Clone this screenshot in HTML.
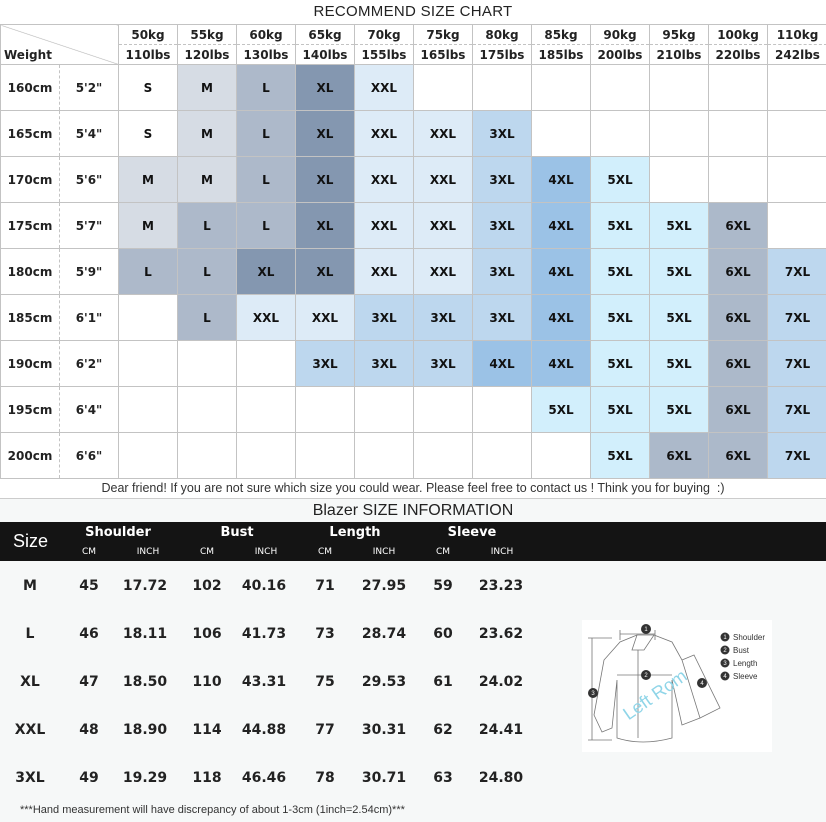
<!DOCTYPE html>
<html><head><meta charset="utf-8"><style>
*{margin:0;padding:0;box-sizing:border-box}
body{width:826px;height:822px;background:#fff;font-family:"DejaVu Sans","Liberation Sans",sans-serif;position:relative;overflow:hidden;color:#111}
.t1{position:absolute;left:0;top:0;width:826px;height:24px;text-align:center;font:15px/24px "Liberation Sans",sans-serif;color:#222;letter-spacing:.3px}
table.g{position:absolute;left:0;top:24px;border-collapse:collapse;table-layout:fixed;width:827px}
table.g td{border:1px solid #c3c3c3;text-align:center;font-weight:bold;font-size:12px;height:46px;padding:0;white-space:nowrap;overflow:hidden}
table.g tr.h td{height:20px;font-size:12px;font-weight:bold;color:#222}
table.g tr.h1 td{border-bottom:1px dashed #c3c3c3}
table.g tr.h2 td{border-top:1px dashed #c3c3c3}
td.hc{border-right:1px dashed #c3c3c3!important;color:#222}
td.hi{border-left:1px dashed #c3c3c3!important;color:#222}
.S{background:#fff}.M{background:#d6dce4}.L{background:#adb9ca}.XL{background:#8497b0}
.XXL{background:#ddebf7}.X3{background:#bdd7ee}.X4{background:#9bc2e6}.X5{background:#d2effc}.X6{background:#acb9ca}.X7{background:#bdd7ee}
.foot{position:absolute;left:0;top:479px;width:826px;height:19px;text-align:center;font:12.5px/19px "Liberation Sans",sans-serif;color:#333}
.bot{position:absolute;left:0;top:498px;width:826px;height:324px;background:#f6f8f8;border-top:1px solid #ccc}
.t2{position:absolute;left:0;top:500px;width:826px;text-align:center;font:16px/22px "Liberation Sans",sans-serif;color:#222}
.bar{position:absolute;left:0;top:522px;width:826px;height:39px;background:#141414;color:#fff}
.a{position:absolute;transform:translateX(-50%);white-space:nowrap}
.r{position:absolute;transform:translate(-50%,-50%);font-weight:bold;font-size:14px;color:#222;white-space:nowrap}
.note{position:absolute;left:20px;top:804px;font:11px "Liberation Sans",sans-serif;color:#333}
</style></head><body>
<div class="t1">RECOMMEND SIZE CHART</div>
<table class="g">
<colgroup><col style="width:59px"><col style="width:59px"><col style="width:59px"><col style="width:59px"><col style="width:59px"><col style="width:59px"><col style="width:59px"><col style="width:59px"><col style="width:59px"><col style="width:59px"><col style="width:59px"><col style="width:59px"><col style="width:59px"><col style="width:60px"></colgroup>
<tr class="h h1"><td colspan="2" rowspan="2" style="text-align:left;vertical-align:bottom;padding:0 0 2px 3px;color:#222;background:linear-gradient(to top right,transparent 49.3%,#bbb 50%,transparent 51%)">Weight</td><td>50kg</td><td>55kg</td><td>60kg</td><td>65kg</td><td>70kg</td><td>75kg</td><td>80kg</td><td>85kg</td><td>90kg</td><td>95kg</td><td>100kg</td><td>110kg</td></tr>
<tr class="h h2"><td>110lbs</td><td>120lbs</td><td>130lbs</td><td>140lbs</td><td>155lbs</td><td>165lbs</td><td>175lbs</td><td>185lbs</td><td>200lbs</td><td>210lbs</td><td>220lbs</td><td>242lbs</td></tr>
<tr><td class="hc">160cm</td><td class="hi">5'2"</td><td class="S">S</td><td class="M">M</td><td class="L">L</td><td class="XL">XL</td><td class="XXL">XXL</td><td></td><td></td><td></td><td></td><td></td><td></td><td></td></tr>
<tr><td class="hc">165cm</td><td class="hi">5'4"</td><td class="S">S</td><td class="M">M</td><td class="L">L</td><td class="XL">XL</td><td class="XXL">XXL</td><td class="XXL">XXL</td><td class="X3">3XL</td><td></td><td></td><td></td><td></td><td></td></tr>
<tr><td class="hc">170cm</td><td class="hi">5'6"</td><td class="M">M</td><td class="M">M</td><td class="L">L</td><td class="XL">XL</td><td class="XXL">XXL</td><td class="XXL">XXL</td><td class="X3">3XL</td><td class="X4">4XL</td><td class="X5">5XL</td><td></td><td></td><td></td></tr>
<tr><td class="hc">175cm</td><td class="hi">5'7"</td><td class="M">M</td><td class="L">L</td><td class="L">L</td><td class="XL">XL</td><td class="XXL">XXL</td><td class="XXL">XXL</td><td class="X3">3XL</td><td class="X4">4XL</td><td class="X5">5XL</td><td class="X5">5XL</td><td class="X6">6XL</td><td></td></tr>
<tr><td class="hc">180cm</td><td class="hi">5'9"</td><td class="L">L</td><td class="L">L</td><td class="XL">XL</td><td class="XL">XL</td><td class="XXL">XXL</td><td class="XXL">XXL</td><td class="X3">3XL</td><td class="X4">4XL</td><td class="X5">5XL</td><td class="X5">5XL</td><td class="X6">6XL</td><td class="X7">7XL</td></tr>
<tr><td class="hc">185cm</td><td class="hi">6'1"</td><td></td><td class="L">L</td><td class="XXL">XXL</td><td class="XXL">XXL</td><td class="X3">3XL</td><td class="X3">3XL</td><td class="X3">3XL</td><td class="X4">4XL</td><td class="X5">5XL</td><td class="X5">5XL</td><td class="X6">6XL</td><td class="X7">7XL</td></tr>
<tr><td class="hc">190cm</td><td class="hi">6'2"</td><td></td><td></td><td></td><td class="X3">3XL</td><td class="X3">3XL</td><td class="X3">3XL</td><td class="X4">4XL</td><td class="X4">4XL</td><td class="X5">5XL</td><td class="X5">5XL</td><td class="X6">6XL</td><td class="X7">7XL</td></tr>
<tr><td class="hc">195cm</td><td class="hi">6'4"</td><td></td><td></td><td></td><td></td><td></td><td></td><td></td><td class="X5">5XL</td><td class="X5">5XL</td><td class="X5">5XL</td><td class="X6">6XL</td><td class="X7">7XL</td></tr>
<tr><td class="hc">200cm</td><td class="hi">6'6"</td><td></td><td></td><td></td><td></td><td></td><td></td><td></td><td></td><td class="X5">5XL</td><td class="X6">6XL</td><td class="X6">6XL</td><td class="X7">7XL</td></tr>
</table>
<div class="foot">Dear friend! If you are not sure which size you could wear. Please feel free to contact us ! Think you for buying &nbsp;:)</div>
<div class="bot"></div>
<div class="t2">Blazer SIZE INFORMATION</div>
<div class="bar">
<div style="position:absolute;left:13px;top:9px;font:18px 'Liberation Sans',sans-serif">Size</div>
<div class="a" style="left:118px;top:3px;font-weight:bold;font-size:13px">Shoulder</div>
<div class="a" style="left:237px;top:3px;font-weight:bold;font-size:13px">Bust</div>
<div class="a" style="left:355px;top:3px;font-weight:bold;font-size:13px">Length</div>
<div class="a" style="left:472px;top:3px;font-weight:bold;font-size:13px">Sleeve</div>
<div class="a" style="left:89px;top:25px;font-size:9px">CM</div><div class="a" style="left:148px;top:25px;font-size:9px">INCH</div>
<div class="a" style="left:207px;top:25px;font-size:9px">CM</div><div class="a" style="left:266px;top:25px;font-size:9px">INCH</div>
<div class="a" style="left:325px;top:25px;font-size:9px">CM</div><div class="a" style="left:384px;top:25px;font-size:9px">INCH</div>
<div class="a" style="left:443px;top:25px;font-size:9px">CM</div><div class="a" style="left:502px;top:25px;font-size:9px">INCH</div>
</div>
<div class="r" style="left:30px;top:586px">M</div><div class="r" style="left:89px;top:586px">45</div><div class="r" style="left:145px;top:586px">17.72</div><div class="r" style="left:207px;top:586px">102</div><div class="r" style="left:264px;top:586px">40.16</div><div class="r" style="left:325px;top:586px">71</div><div class="r" style="left:384px;top:586px">27.95</div><div class="r" style="left:443px;top:586px">59</div><div class="r" style="left:501px;top:586px">23.23</div>
<div class="r" style="left:30px;top:634px">L</div><div class="r" style="left:89px;top:634px">46</div><div class="r" style="left:145px;top:634px">18.11</div><div class="r" style="left:207px;top:634px">106</div><div class="r" style="left:264px;top:634px">41.73</div><div class="r" style="left:325px;top:634px">73</div><div class="r" style="left:384px;top:634px">28.74</div><div class="r" style="left:443px;top:634px">60</div><div class="r" style="left:501px;top:634px">23.62</div>
<div class="r" style="left:30px;top:682px">XL</div><div class="r" style="left:89px;top:682px">47</div><div class="r" style="left:145px;top:682px">18.50</div><div class="r" style="left:207px;top:682px">110</div><div class="r" style="left:264px;top:682px">43.31</div><div class="r" style="left:325px;top:682px">75</div><div class="r" style="left:384px;top:682px">29.53</div><div class="r" style="left:443px;top:682px">61</div><div class="r" style="left:501px;top:682px">24.02</div>
<div class="r" style="left:30px;top:730px">XXL</div><div class="r" style="left:89px;top:730px">48</div><div class="r" style="left:145px;top:730px">18.90</div><div class="r" style="left:207px;top:730px">114</div><div class="r" style="left:264px;top:730px">44.88</div><div class="r" style="left:325px;top:730px">77</div><div class="r" style="left:384px;top:730px">30.31</div><div class="r" style="left:443px;top:730px">62</div><div class="r" style="left:501px;top:730px">24.41</div>
<div class="r" style="left:30px;top:778px">3XL</div><div class="r" style="left:89px;top:778px">49</div><div class="r" style="left:145px;top:778px">19.29</div><div class="r" style="left:207px;top:778px">118</div><div class="r" style="left:264px;top:778px">46.46</div><div class="r" style="left:325px;top:778px">78</div><div class="r" style="left:384px;top:778px">30.71</div><div class="r" style="left:443px;top:778px">63</div><div class="r" style="left:501px;top:778px">24.80</div>
<svg style="position:absolute;left:582px;top:620px" width="190" height="132" viewBox="0 0 190 132">
<rect width="190" height="132" fill="#fff"/>
<g fill="none" stroke="#777" stroke-width="0.8">
<path d="M38 14 H73 M38 10 V20 M73 10 V20"/>
<path d="M10 18 V120 M6 18 H30 M6 120 H30"/>
<path d="M55 15 L38 22 L22 40 L12 95 L20 112 L30 108 L35 60 L35 118 Q60 126 90 118 L90 60 L100 105 L118 98 L100 40 L90 22 L72 15 Z"/>
<path d="M55 15 L50 30 L62 30 L72 15 M56 30 V118 M35 55 H90"/>
<path d="M100 40 L112 35 L138 88 L118 98"/>
</g>
<text x="40" y="90" font-size="18" fill="#8fd5e8" font-family="Liberation Sans" transform="rotate(-35 60 85)">Left Rom</text>
<g fill="#333"><circle cx="64" cy="9" r="5"/><circle cx="64" cy="55" r="5"/><circle cx="11" cy="73" r="5"/><circle cx="120" cy="63" r="5"/>
<circle cx="143" cy="17" r="4.5"/><circle cx="143" cy="30" r="4.5"/><circle cx="143" cy="43" r="4.5"/><circle cx="143" cy="56" r="4.5"/></g>
<g fill="#fff" font-size="6" font-family="Liberation Sans" text-anchor="middle"><text x="64" y="11">1</text><text x="64" y="57">2</text><text x="11" y="75">3</text><text x="120" y="65">4</text>
<text x="143" y="19">1</text><text x="143" y="32">2</text><text x="143" y="45">3</text><text x="143" y="58">4</text></g>
<g fill="#333" font-size="8" font-family="Liberation Sans"><text x="151" y="20">Shoulder</text><text x="151" y="33">Bust</text><text x="151" y="46">Length</text><text x="151" y="59">Sleeve</text></g>
</svg>
<div class="note">***Hand measurement will have discrepancy of about 1-3cm (1inch=2.54cm)***</div>
</body></html>
